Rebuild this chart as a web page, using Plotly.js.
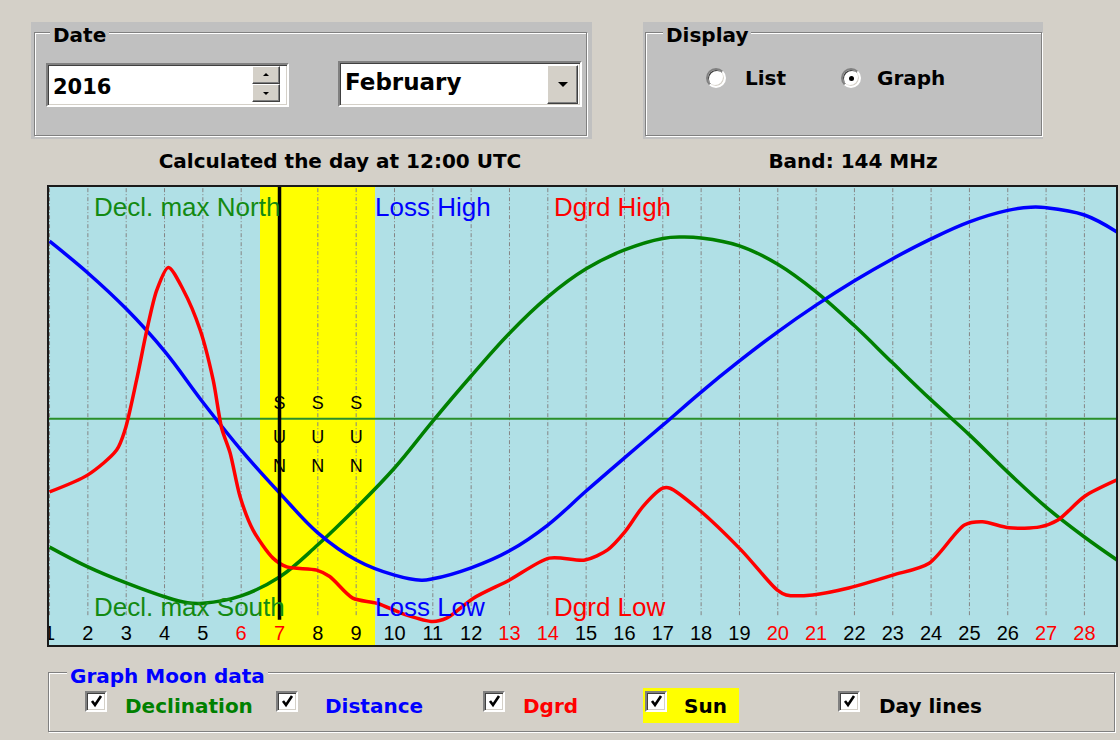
<!DOCTYPE html>
<html>
<head>
<meta charset="utf-8">
<script src="https://cdn.plot.ly/plotly-3.0.1.min.js"></script>
<style>
html,body{margin:0;padding:0;background:#d4d0c8;}
#wrap{position:relative;width:1120px;height:740px;overflow:hidden;background:#d4d0c8;}
#chart{position:absolute;left:0;top:0;width:1120px;height:740px;}
.abs{position:absolute;box-sizing:border-box;}
.txt{position:absolute;white-space:nowrap;font-family:"DejaVu Sans",sans-serif;font-weight:bold;font-size:20px;line-height:24px;color:#000;}
.fill{background:#c0c0c0;}
.etch{border:1px solid #808080;box-shadow:1px 1px 0 #ffffff, inset 1px 1px 0 #ffffff;}
.sunken{background:#fff;border-style:solid;border-width:2px;border-color:#808080 #ffffff #ffffff #808080;box-shadow:inset 1px 1px 0 #404040, inset -1px -1px 0 #d4d0c8;}
.raised{background:#d4d0c8;border-style:solid;border-width:1px;border-color:#ffffff #404040 #404040 #ffffff;box-shadow:inset -1px -1px 0 #808080;}
.radio{border-radius:50%;}
.tri-up{position:absolute;width:0;height:0;border-left:3px solid transparent;border-right:3px solid transparent;border-bottom:3px solid #000;}
.tri-dn{position:absolute;width:0;height:0;border-left:3px solid transparent;border-right:3px solid transparent;border-top:3px solid #000;}
</style>
</head>
<body>
<div id="wrap">
  <div id="chart"></div>

  <!-- Date group -->
  <div class="abs fill" style="left:31px;top:22px;width:561px;height:117px;"></div>
  <div class="abs etch" style="left:34px;top:32px;width:553px;height:104px;"></div>
  <div class="txt" style="left:50px;top:23px;background:#c0c0c0;padding:0 3px;">Date</div>
  <div class="abs sunken" style="left:46px;top:63px;width:243px;height:44px;"></div>
  <div class="txt" style="left:53px;top:75px;font-size:21px;">2016</div>
  <div class="abs raised" style="left:252px;top:66px;width:28px;height:18px;"><div class="tri-up" style="left:10px;top:6px;"></div></div>
  <div class="abs raised" style="left:252px;top:84px;width:28px;height:18px;"><div class="tri-dn" style="left:10px;top:7px;"></div></div>
  <div class="abs sunken" style="left:338px;top:61px;width:244px;height:46px;"></div>
  <div class="txt" style="left:345px;top:70px;font-size:23px;">February</div>
  <div class="abs raised" style="left:547px;top:65px;width:31px;height:39px;"><div class="abs" style="left:10px;top:16px;width:0;height:0;border-left:5px solid transparent;border-right:5px solid transparent;border-top:5px solid #000;"></div></div>
  <div class="txt" style="left:0;width:680px;text-align:center;top:149px;">Calculated the day at 12:00 UTC</div>

  <!-- Display group -->
  <div class="abs fill" style="left:643px;top:22px;width:400px;height:117px;"></div>
  <div class="abs etch" style="left:645px;top:32px;width:397px;height:104px;"></div>
  <div class="txt" style="left:663px;top:23px;background:#c0c0c0;padding:0 3px;">Display</div>
  <div class="abs sunken radio" style="left:706px;top:68px;width:20px;height:20px;"></div>
  <div class="txt" style="left:745px;top:66px;">List</div>
  <div class="abs sunken radio" style="left:841px;top:68px;width:20px;height:20px;"><div class="abs radio" style="left:6px;top:6px;width:5px;height:5px;background:#000;"></div></div>
  <div class="txt" style="left:877px;top:66px;">Graph</div>
  <div class="txt" style="left:703px;width:300px;text-align:center;top:149px;">Band: 144 MHz</div>

  <!-- Graph Moon data group -->
  <div class="abs etch" style="left:48px;top:672px;width:1067px;height:60px;"></div>
  <div class="txt" style="left:67px;top:664px;background:#d4d0c8;padding:0 3px;color:#0000ff;">Graph Moon data</div>

  <div class="abs sunken" style="left:85px;top:691px;width:22px;height:21px;"><svg class="abs" style="left:2px;top:1px" width="15" height="15" viewBox="0 0 15 15"><path d="M3 7 L6 11 L12 2" stroke="#000" stroke-width="2.6" fill="none"/></svg></div>
  <div class="txt" style="left:125px;top:694px;color:#008000;">Declination</div>

  <div class="abs sunken" style="left:276px;top:691px;width:22px;height:21px;"><svg class="abs" style="left:2px;top:1px" width="15" height="15" viewBox="0 0 15 15"><path d="M3 7 L6 11 L12 2" stroke="#000" stroke-width="2.6" fill="none"/></svg></div>
  <div class="txt" style="left:325px;top:694px;color:#0000ff;">Distance</div>

  <div class="abs sunken" style="left:483px;top:691px;width:22px;height:21px;"><svg class="abs" style="left:2px;top:1px" width="15" height="15" viewBox="0 0 15 15"><path d="M3 7 L6 11 L12 2" stroke="#000" stroke-width="2.6" fill="none"/></svg></div>
  <div class="txt" style="left:523px;top:694px;color:#ff0000;">Dgrd</div>

  <div class="abs" style="left:643px;top:688px;width:96px;height:35px;background:#ffff00;"></div>
  <div class="abs sunken" style="left:645px;top:691px;width:22px;height:21px;"><svg class="abs" style="left:2px;top:1px" width="15" height="15" viewBox="0 0 15 15"><path d="M3 7 L6 11 L12 2" stroke="#000" stroke-width="2.6" fill="none"/></svg></div>
  <div class="txt" style="left:684px;top:694px;">Sun</div>

  <div class="abs sunken" style="left:838px;top:691px;width:22px;height:21px;"><svg class="abs" style="left:2px;top:1px" width="15" height="15" viewBox="0 0 15 15"><path d="M3 7 L6 11 L12 2" stroke="#000" stroke-width="2.6" fill="none"/></svg></div>
  <div class="txt" style="left:879px;top:694px;">Day lines</div>
</div>

<script>
// ---- data (relative level 0..100 over the graph height) ----
const days = [1,2,3,4,5,6,7,8,9,10,11,12,13,14,15,16,17,18,19,20,21,22,23,24,25,26,27,28];
const dayLabels = ['1','2','3','4','5','6','7','8','9','10','11','12','13','14','15','16','17','18','19','20','21','22','23','24','25','26','27','28'];
const weekendDays = [6,7,13,14,20,21,27,28];
const sunDays = [7,8,9];
const markerDay = 7;
const declZero = 49.4;

const declX = [1,2,3,4,4.6,5,6,7,8,9,10,11,12,13,14,15,16,17,17.5,18,19,20,21,22,23,24,25,26,27,28,28.85];
const declY = [21.5,17.2,13.7,10.7,9.4,9.3,10.9,15.0,22.0,30.0,38.7,48.9,58.7,68.0,75.9,82.0,86.1,88.6,88.9,88.7,87.0,83.0,77.0,69.6,61.5,53.5,45.9,37.8,30.2,23.7,18.7];

const distX = [1,2,3,4,5,6,7,8,9,10,10.7,11,12,13,14,15,16,17,18,19,20,21,22,23,24,25,26,26.6,27,28,28.85];
const distY = [88.0,81.1,73.3,64.1,53.0,42.6,33.3,24.6,18.7,15.4,14.3,14.6,17.0,20.7,26.3,33.7,40.9,48.0,55.2,61.96,68.3,74.1,79.4,84.2,88.5,92.2,94.7,95.4,95.3,93.7,90.0];

const dgrdX = [1,2,2.75,2.97,3.27,3.54,3.8,4.1,4.49,4.93,5.27,5.49,5.71,5.97,6.31,6.83,7.19,7.97,8.31,8.91,9.54,10.32,11,11.37,12.06,12.99,14.04,14.97,15.56,16.01,16.48,17,17.19,17.89,19.04,19.98,20.22,20.91,21.85,23,23.95,24.87,25.34,26.03,26.84,27.31,28,28.85];
const dgrdY = [33.5,37.2,42.6,47.0,57.8,68.7,77.4,82.3,77.4,68.7,57.8,47.4,42.0,32.5,25.2,19.1,17.2,16.5,15.1,10.4,9.3,6.7,5.3,6.1,10.4,14.3,19.1,18.7,20.9,24.8,30.3,34.3,34.3,30.0,20.9,12.2,11.1,11.1,12.6,15.4,18.0,26.3,27.0,25.7,25.9,27.4,32.5,36.1];

// ---- chart ----
const xRange = [0.96, 28.85];
const yTop = 100;
const gridBottom = 6.7;
const markerBottom = 5.7;
const labelLevel = 2.3;
const sunLetterLevels = [52.4, 45.2, 38.7];

const traces = [];
traces.push({type:'bar', x:sunDays, y:sunDays.map(()=>yTop), width:1,
  marker:{color:'#ffff00', line:{width:0}}, hoverinfo:'skip'});

const gx = [], gy = [];
days.forEach(d => { gx.push(d, d, null); gy.push(gridBottom, yTop, null); });
traces.push({type:'scatter', mode:'lines', x:gx, y:gy,
  line:{color:'#858585', width:1, dash:'4px,2px,1px,2px'}, hoverinfo:'skip'});

traces.push({type:'scatter', mode:'lines', x:xRange, y:[declZero, declZero],
  line:{color:'#2a8f2a', width:2}, hoverinfo:'skip'});

const lineStyle = (c, s) => ({color:c, width:3.5, shape:'spline', smoothing:s});
traces.push({type:'scatter', mode:'lines', name:'Declination', x:declX, y:declY, line:lineStyle('#008000', 1.1)});
traces.push({type:'scatter', mode:'lines', name:'Distance', x:distX, y:distY, line:lineStyle('#0000ff', 1.1)});
traces.push({type:'scatter', mode:'lines', name:'Dgrd', x:dgrdX, y:dgrdY, line:lineStyle('#ff0000', 0.8)});

traces.push({type:'scatter', mode:'lines', x:[markerDay, markerDay], y:[markerBottom, yTop],
  line:{color:'#000000', width:3.5}, hoverinfo:'skip'});

const sx = [], sy = [], st = [];
sunDays.forEach(d => { ['S','U','N'].forEach((ch, i) => { sx.push(d); sy.push(sunLetterLevels[i]); st.push(ch); }); });
traces.push({type:'scatter', mode:'text', x:sx, y:sy, text:st, textposition:'middle center',
  textfont:{family:'"Liberation Sans", Arial, sans-serif', size:18, color:'#000'}, hoverinfo:'skip'});

traces.push({type:'scatter', mode:'text', x:days, y:days.map(()=>labelLevel), text:dayLabels,
  textposition:'middle center',
  textfont:{family:'"Liberation Sans", Arial, sans-serif', size:20,
    color:days.map(d => weekendDays.includes(d) ? '#ff0000' : '#000000')}, hoverinfo:'skip'});

const lf = (c) => ({family:'"Liberation Sans", Arial, sans-serif', size:26, color:c});
const ann = (text, x, y, c) => ({text, x, y, xref:'x', yref:'y', xanchor:'left', yanchor:'middle', showarrow:false, font:lf(c)});

const layout = {
  width:1120, height:740,
  margin:{l:48, r:3, t:186, b:94, pad:0},
  paper_bgcolor:'rgba(0,0,0,0)',
  plot_bgcolor:'#b0e0e6',
  showlegend:false,
  bargap:0,
  xaxis:{range:xRange, showgrid:false, zeroline:false, showticklabels:false, ticks:'', showline:false, fixedrange:true},
  yaxis:{range:[0, yTop], showgrid:false, zeroline:false, showticklabels:false, ticks:'', showline:false, fixedrange:true},
  shapes:[
    {type:'rect', xref:'paper', yref:'paper', x0:0, x1:1, y0:0, y1:1, line:{color:'#1a1a1a', width:2}, layer:'above'}
  ],
  annotations:[
    ann('Decl. max North', 2.11, 95.4, '#138a13'),
    ann('Loss High', 9.45, 95.4, '#0000ff'),
    ann('Dgrd High', 14.12, 95.4, '#ff0000'),
    ann('Decl. max South', 2.11, 8.5, '#138a13'),
    ann('Loss Low', 9.45, 8.5, '#0000ff'),
    ann('Dgrd Low', 14.12, 8.5, '#ff0000')
  ]
};

Plotly.newPlot('chart', traces, layout, {staticPlot:true, displayModeBar:false});
</script>
</body>
</html>
